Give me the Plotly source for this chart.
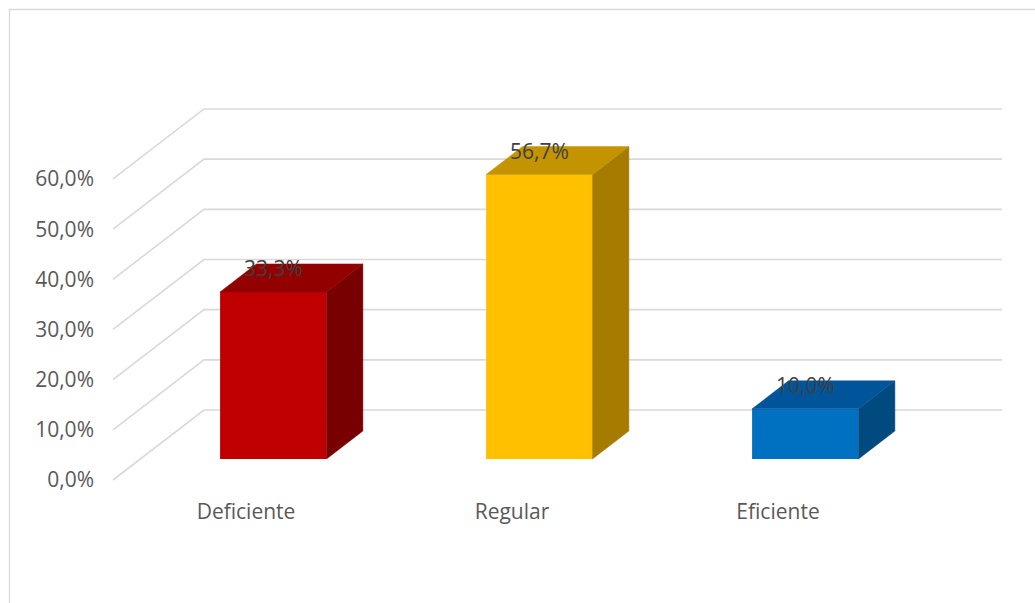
import plotly.graph_objects as go

# ---- data ----
categories = ["Deficiente", "Regular", "Eficiente"]
values = [33.3, 56.7, 10.0]
value_labels = ["33,3%", "56,7%", "10,0%"]
tick_values = [0, 10, 20, 30, 40, 50, 60]
tick_labels = ["0,0%", "10,0%", "20,0%", "30,0%", "40,0%", "50,0%", "60,0%"]

# ---- styles ----
front_colors = ["#C00000", "#FFC000", "#0070C0"]
top_colors = ["#920000", "#C49400", "#00559A"]
side_colors = ["#780000", "#A67C00", "#004A80"]
grid_color = "#D9D9D9"
text_color = "#595959"
FONT = "Open Sans"

# 3D projection offsets (full depth) in data units
DX = 0.342
DY = 13.95
BAR_W = 0.4
D0, D1 = 0.3, 0.7  # bar depth extent

# plot geometry
L, R, T, B = 95, 15, 40, 106
W, H = 1035, 603
kx = 266.0
ky = 5.017
x_min = -(246 - L) / kx
x_max = x_min + (W - L - R) / kx
y_min = -((H - B) - 480) / ky
y_max = y_min + (H - T - B) / ky

fig = go.Figure()
shapes = []

# gridlines: side wall diagonals + back wall horizontals (below the bars)
for tv in tick_values:
    shapes.append(dict(type="path", xref="x", yref="y", layer="below",
                       path=f"M {-0.5},{tv} L {-0.5 + DX},{tv + DY} L {2.5 + DX},{tv + DY}",
                       line=dict(color=grid_color, width=1.6)))

# chart border
shapes.append(dict(type="rect", xref="paper", yref="paper", layer="below",
                   x0=(9.5 - L) / (W - L - R), x1=1.2,
                   y0=-0.5, y1=(H - B - 9.5) / (H - T - B),
                   line=dict(color=grid_color, width=1.3)))

# bars
for i, (v, fc, tc, sc) in enumerate(zip(values, front_colors, top_colors, side_colors)):
    xc = i + D0 * DX
    yb = D0 * DY
    xl, xr = xc - BAR_W / 2, xc + BAR_W / 2
    ddx = (D1 - D0) * DX
    ddy = (D1 - D0) * DY
    # side face
    fig.add_trace(go.Scatter(
        x=[xr, xr + ddx, xr + ddx, xr, xr],
        y=[yb, yb + ddy, yb + ddy + v, yb + v, yb],
        fill="toself", fillcolor=sc, mode="lines",
        line=dict(color=sc, width=0.5), hoverinfo="skip", showlegend=False))
    # top face
    fig.add_trace(go.Scatter(
        x=[xl, xr, xr + ddx, xl + ddx, xl],
        y=[yb + v, yb + v, yb + v + ddy, yb + v + ddy, yb + v],
        fill="toself", fillcolor=tc, mode="lines",
        line=dict(color=tc, width=0.5), hoverinfo="skip", showlegend=False))
    # front face
    fig.add_trace(go.Bar(
        x=[xc], y=[v], base=[yb], width=[BAR_W],
        marker=dict(color=fc, line=dict(width=0)),
        hoverinfo="skip", showlegend=False))
    fig.add_annotation(
        x=xc, y=yb + v, text=value_labels[i], showarrow=False,
        yshift=24, font=dict(family=FONT, size=21, color="#404040"))

fig.update_layout(
    width=W, height=H,
    margin=dict(l=L, r=R, t=T, b=B),
    paper_bgcolor="white", plot_bgcolor="white",
    barmode="overlay",
    xaxis=dict(range=[x_min, x_max], tickvals=[0, 1, 2], ticktext=categories,
               showgrid=False, zeroline=False, showline=False, ticks="",
               tickfont=dict(family=FONT, size=21, color=text_color)),
    yaxis=dict(range=[y_min, y_max], tickvals=tick_values, ticktext=tick_labels,
               showgrid=False, zeroline=False, showline=False, ticks="",
               tickfont=dict(family=FONT, size=21, color=text_color)),
    shapes=shapes,
)

fig.write_html("out.html")
